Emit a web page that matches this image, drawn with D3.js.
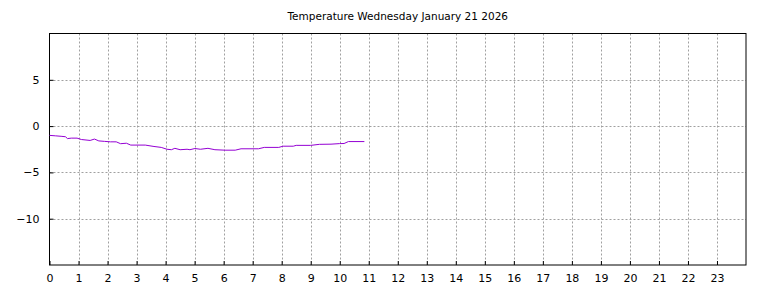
<!DOCTYPE html>
<html>
<head>
<meta charset="utf-8">
<script src="https://cdn.jsdelivr.net/npm/d3@7"></script>
<style>
  body { margin: 0; background: #fff; }
  svg { display: block; font-family: "DejaVu Sans", sans-serif; }
</style>
</head>
<body>
<div id="chart"></div>
<script>
// Readings (hour of day, temperature in C)
const hours = [0.0, 0.2, 0.4, 0.55, 0.62, 0.75, 0.95, 1.1, 1.4, 1.55, 1.7, 1.9, 2.1, 2.3, 2.45, 2.65,
               2.8, 3.3, 3.6, 3.85, 4.05, 4.2, 4.32, 4.5, 4.74, 4.84, 5.01, 5.2, 5.46, 5.7, 6.05, 6.4,
               6.6, 7.2, 7.4, 7.9, 8.05, 8.4, 8.5, 9.0, 9.3, 9.7, 10.0, 10.15, 10.3, 10.85];
const temps = [-1.0, -1.05, -1.1, -1.15, -1.35, -1.3, -1.3, -1.45, -1.55, -1.4, -1.6, -1.65, -1.7, -1.7, -1.9, -1.85,
               -2.05, -2.05, -2.2, -2.3, -2.5, -2.55, -2.4, -2.55, -2.5, -2.55, -2.42, -2.5, -2.4, -2.55, -2.6, -2.6,
               -2.45, -2.45, -2.3, -2.3, -2.17, -2.17, -2.08, -2.08, -1.97, -1.95, -1.89, -1.88, -1.67, -1.67];
const xTicks = d3.range(0, 24);
const yTicks = [-10, -5, 0, 5];
const title = "Temperature Wednesday January 21 2026";

const W = 768, H = 288;
const margin = {top: 33.5, right: 22, bottom: 23, left: 49.5};

const svg = d3.select("#chart").append("svg")
    .attr("width", W)
    .attr("height", H);

const x = d3.scaleLinear().domain([0, 24]).range([margin.left, W - margin.right]);
const y = d3.scaleLinear().domain([-15, 10]).range([H - margin.bottom, margin.top]);

// grid lines
svg.append("g").selectAll("line")
    .data(xTicks.slice(1))
    .join("line")
    .attr("x1", d => Math.round(x(d)) + 0.5)
    .attr("x2", d => Math.round(x(d)) + 0.5)
    .attr("y1", y(10))
    .attr("y2", y(-15))
    .attr("stroke", "#a0a0a0")
    .attr("stroke-width", 1)
    .attr("stroke-dasharray", "2,2");

svg.append("g").selectAll("line")
    .data(yTicks)
    .join("line")
    .attr("x1", x(0))
    .attr("x2", x(24))
    .attr("y1", d => Math.round(y(d)) + 0.5)
    .attr("y2", d => Math.round(y(d)) + 0.5)
    .attr("stroke", "#a0a0a0")
    .attr("stroke-width", 1)
    .attr("stroke-dasharray", "2,2");

// axes with inward ticks
const xAxis = svg.append("g")
    .attr("transform", `translate(0,${y(-15)})`)
    .call(d3.axisBottom(x).tickValues(xTicks).tickSizeInner(-4).tickSizeOuter(0).tickPadding(9));
const yAxis = svg.append("g")
    .attr("transform", `translate(${x(0)},0)`)
    .call(d3.axisLeft(y).tickValues(yTicks).tickSizeInner(-4).tickSizeOuter(0).tickPadding(10));
[xAxis, yAxis].forEach(a => {
  a.select(".domain").remove();
  a.selectAll("text").style("font-size", "11px").style("font-family", "DejaVu Sans, sans-serif").attr("fill", "#000");
  a.selectAll("line").attr("stroke", "#000");
});

// frame
svg.append("rect")
    .attr("x", x(0))
    .attr("y", y(10))
    .attr("width", x(24) - x(0))
    .attr("height", y(-15) - y(10))
    .attr("fill", "none")
    .attr("stroke", "#000")
    .attr("stroke-width", 1);

// temperature line
const pts = hours.map((h, i) => [h, temps[i]]);
svg.append("path")
    .datum(pts)
    .attr("fill", "none")
    .attr("stroke", "#9400d3")
    .attr("stroke-width", 1)
    .attr("d", d3.line().x(d => x(d[0])).y(d => y(d[1])));

// title
svg.append("text")
    .attr("x", (x(0) + x(24)) / 2)
    .attr("y", 20)
    .attr("text-anchor", "middle")
    .style("font-size", "10.5px")
    .text(title);
</script>
</body>
</html>
